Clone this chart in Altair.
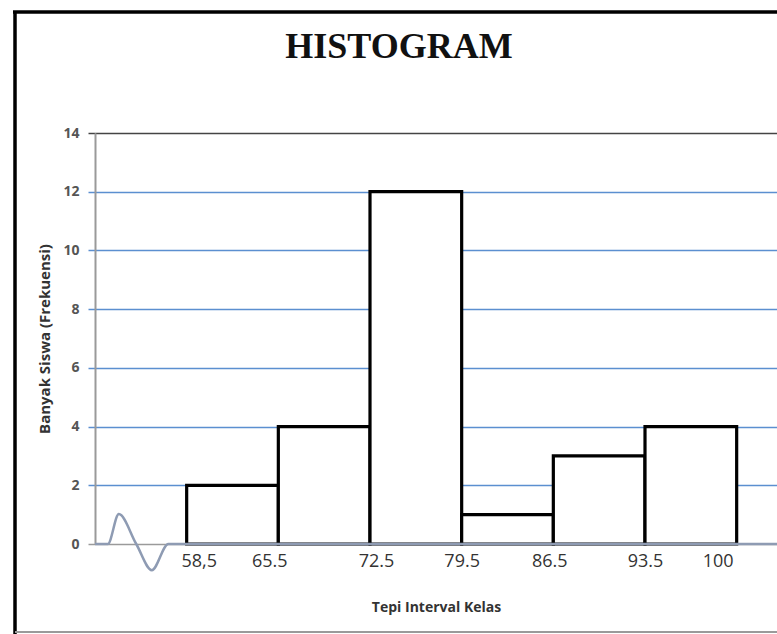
import json
import altair as alt
import pandas as pd

# ---- data ----
edge_labels = ["58,5", "65.5", "72.5", "79.5", "86.5", "93.5", "100"]
frequencies = [2, 4, 12, 1, 3, 4]
y_ticks = [0, 2, 4, 6, 8, 10, 12, 14]
chart_title = "HISTOGRAM"
x_title = "Tepi Interval Kelas"
y_title = "Banyak Siswa (Frekuensi)"

# axis-break squiggle on the x baseline (x in class-index units, y in frequency units)
break_x = [-1.0, -0.86, -0.74, -0.55, -0.38, -0.20, 6.44]
break_y = [0.0, 0.0, 1.02, 0.0, -0.89, 0.0, 0.0]

# style: horizontal nudges (px) of the edge labels, as in the reference
label_nudge = [12, -9, 6, 0, -4, 0, -19]

W, H = 682, 411
X_DOMAIN = [-1, 6.44]
Y_DOMAIN = [0, 14]

bars = pd.DataFrame({
    "lo": list(range(len(frequencies))),
    "hi": [i + 1 for i in range(len(frequencies))],
    "freq": frequencies,
})
baseline = pd.DataFrame({"bx": break_x, "by": break_y})

xs = alt.Scale(domain=X_DOMAIN, nice=False, zero=False)
ys = alt.Scale(domain=Y_DOMAIN, nice=False, zero=False)

label_expr = json.dumps(edge_labels) + "[datum.value]"
offset_expr = {"expr": json.dumps(label_nudge) + "[datum.value]"}
grid_expr = {"expr": "datum.value === 14 ? '#444444' : (datum.value === 0 ? '#9a9a9a' : '#5b8fd0')"}

bar_layer = alt.Chart(bars).mark_rect(
    fill="white", stroke="black", strokeWidth=3.2
).encode(
    x=alt.X("lo:Q", scale=xs, axis=alt.Axis(
        values=list(range(len(edge_labels))), labelExpr=label_expr,
        labelOffset=offset_expr,
        domain=False, ticks=False, grid=False, labelPadding=8,
        labelFont="Open Sans", labelFontSize=18, labelColor="#333333",
        title=x_title, titleFont="Open Sans", titleFontSize=14,
        titleFontWeight="bold", titleColor="#333333", titlePadding=30,
    )),
    x2="hi:Q",
    y=alt.Y("freq:Q", scale=ys, axis=alt.Axis(
        values=y_ticks, tickSize=7, tickWidth=1.5,
        tickColor=grid_expr,
        domainColor="#9a9a9a", domainWidth=2,
        grid=True, gridWidth=1.5,
        gridColor=grid_expr,
        labelFont="Open Sans", labelFontSize=14, labelFontWeight="bold",
        labelColor="#555555", labelPadding=9,
        title=y_title, titleFont="Open Sans", titleFontSize=15,
        titleFontWeight="bold", titleColor="#333333", titlePadding=10,
    )),
    y2=alt.Y2(datum=0),
)

line_layer = alt.Chart(baseline).mark_line(
    color="#8e9bb3", strokeWidth=2.5, interpolate="monotone", clip=False
).encode(
    x=alt.X("bx:Q", scale=xs),
    y=alt.Y("by:Q", scale=ys),
)

one = alt.Data(values=[{"t": chart_title}])
title_layer = alt.Chart(one).mark_text(
    font="Liberation Serif", fontSize=36, fontWeight="bold", color="#111111",
    align="center", baseline="middle"
).encode(x=alt.value(304), y=alt.value(-86), text="t:N")

frame_left = alt.Chart(alt.Data(values=[{}])).mark_rule(
    color="black", strokeWidth=3.5
).encode(x=alt.value(-80), y=alt.value(-122), y2=alt.value(501))
frame_top = alt.Chart(alt.Data(values=[{}])).mark_rule(
    color="black", strokeWidth=3.5
).encode(x=alt.value(-82), x2=alt.value(W), y=alt.value(-121))
frame_bottom = alt.Chart(alt.Data(values=[{}])).mark_rule(
    color="#9a9a9a", strokeWidth=2
).encode(x=alt.value(-80), x2=alt.value(W), y=alt.value(499))

chart = alt.layer(
    bar_layer, line_layer, title_layer, frame_left, frame_top, frame_bottom
).properties(
    width=W, height=H,
    autosize=alt.AutoSizeParams(type="none"),
    padding={"left": 95, "top": 133, "right": 0, "bottom": 90},
    background="white",
).configure_view(stroke=None)

chart.save("out.html", embed_options={"renderer": "svg", "actions": False})
